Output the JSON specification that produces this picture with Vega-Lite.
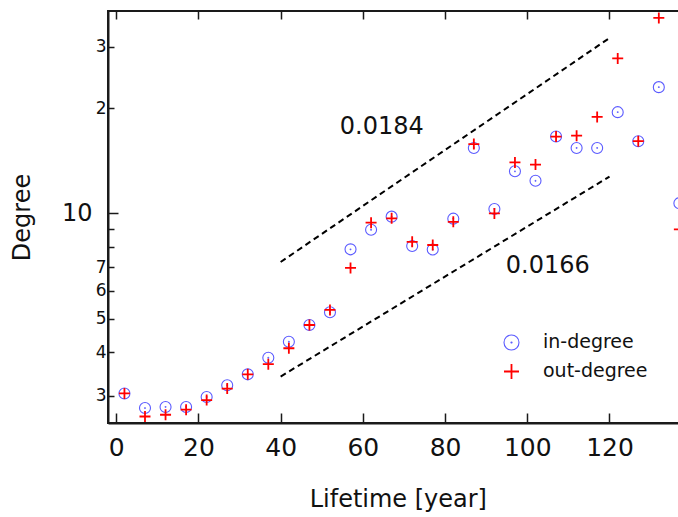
{
  "$schema": "https://vega.github.io/schema/vega-lite/v6.json",
  "width": 579.6,
  "height": 412,
  "autosize": {"type": "none"},
  "padding": {"left": 108, "top": 11, "right": 0, "bottom": 94},
  "background": "white",
  "config": {
    "font": "DejaVu Sans",
    "view": {"stroke": "#1a1a1a", "strokeWidth": 2},
    "axis": {"grid": false, "domainColor": "#1a1a1a", "domainWidth": 2, "tickColor": "#1a1a1a", "tickWidth": 1.5, "labelColor": "#111", "titleColor": "#111", "titleFontWeight": "normal"}
  },
  "datasets": {
    "pts": [
      {"Lifetime": 2, "Degree": 3.05, "series": "in-degree"},
      {"Lifetime": 7, "Degree": 2.77, "series": "in-degree"},
      {"Lifetime": 12, "Degree": 2.79, "series": "in-degree"},
      {"Lifetime": 17, "Degree": 2.79, "series": "in-degree"},
      {"Lifetime": 22, "Degree": 2.98, "series": "in-degree"},
      {"Lifetime": 27, "Degree": 3.22, "series": "in-degree"},
      {"Lifetime": 32, "Degree": 3.46, "series": "in-degree"},
      {"Lifetime": 37, "Degree": 3.86, "series": "in-degree"},
      {"Lifetime": 42, "Degree": 4.29, "series": "in-degree"},
      {"Lifetime": 47, "Degree": 4.79, "series": "in-degree"},
      {"Lifetime": 52, "Degree": 5.21, "series": "in-degree"},
      {"Lifetime": 57, "Degree": 7.89, "series": "in-degree"},
      {"Lifetime": 62, "Degree": 8.98, "series": "in-degree"},
      {"Lifetime": 67, "Degree": 9.79, "series": "in-degree"},
      {"Lifetime": 72, "Degree": 8.07, "series": "in-degree"},
      {"Lifetime": 77, "Degree": 7.88, "series": "in-degree"},
      {"Lifetime": 82, "Degree": 9.66, "series": "in-degree"},
      {"Lifetime": 87, "Degree": 15.4, "series": "in-degree"},
      {"Lifetime": 92, "Degree": 10.3, "series": "in-degree"},
      {"Lifetime": 97, "Degree": 13.2, "series": "in-degree"},
      {"Lifetime": 102, "Degree": 12.4, "series": "in-degree"},
      {"Lifetime": 107, "Degree": 16.6, "series": "in-degree"},
      {"Lifetime": 112, "Degree": 15.4, "series": "in-degree"},
      {"Lifetime": 117, "Degree": 15.4, "series": "in-degree"},
      {"Lifetime": 122, "Degree": 19.5, "series": "in-degree"},
      {"Lifetime": 127, "Degree": 16.1, "series": "in-degree"},
      {"Lifetime": 132, "Degree": 23.0, "series": "in-degree"},
      {"Lifetime": 137, "Degree": 10.7, "series": "in-degree"},
      {"Lifetime": 2, "Degree": 3.05, "series": "out-degree"},
      {"Lifetime": 7, "Degree": 2.62, "series": "out-degree"},
      {"Lifetime": 12, "Degree": 2.65, "series": "out-degree"},
      {"Lifetime": 17, "Degree": 2.74, "series": "out-degree"},
      {"Lifetime": 22, "Degree": 2.92, "series": "out-degree"},
      {"Lifetime": 27, "Degree": 3.15, "series": "out-degree"},
      {"Lifetime": 32, "Degree": 3.46, "series": "out-degree"},
      {"Lifetime": 37, "Degree": 3.70, "series": "out-degree"},
      {"Lifetime": 42, "Degree": 4.11, "series": "out-degree"},
      {"Lifetime": 47, "Degree": 4.79, "series": "out-degree"},
      {"Lifetime": 52, "Degree": 5.29, "series": "out-degree"},
      {"Lifetime": 57, "Degree": 6.98, "series": "out-degree"},
      {"Lifetime": 62, "Degree": 9.41, "series": "out-degree"},
      {"Lifetime": 67, "Degree": 9.68, "series": "out-degree"},
      {"Lifetime": 72, "Degree": 8.29, "series": "out-degree"},
      {"Lifetime": 77, "Degree": 8.12, "series": "out-degree"},
      {"Lifetime": 82, "Degree": 9.46, "series": "out-degree"},
      {"Lifetime": 87, "Degree": 15.8, "series": "out-degree"},
      {"Lifetime": 92, "Degree": 10.0, "series": "out-degree"},
      {"Lifetime": 97, "Degree": 14.0, "series": "out-degree"},
      {"Lifetime": 102, "Degree": 13.8, "series": "out-degree"},
      {"Lifetime": 107, "Degree": 16.6, "series": "out-degree"},
      {"Lifetime": 112, "Degree": 16.7, "series": "out-degree"},
      {"Lifetime": 117, "Degree": 18.9, "series": "out-degree"},
      {"Lifetime": 122, "Degree": 27.8, "series": "out-degree"},
      {"Lifetime": 127, "Degree": 16.1, "series": "out-degree"},
      {"Lifetime": 132, "Degree": 36.3, "series": "out-degree"},
      {"Lifetime": 137, "Degree": 9.0, "series": "out-degree"}
    ],
    "fits": [
      {"Lifetime": 40, "Degree": 7.26, "line": "upper"},
      {"Lifetime": 120, "Degree": 31.8, "line": "upper"},
      {"Lifetime": 40, "Degree": 3.41, "line": "lower"},
      {"Lifetime": 120, "Degree": 12.75, "line": "lower"}
    ],
    "notes": [
      {"Lifetime": 64.6, "Degree": 17.7, "label": "0.0184"},
      {"Lifetime": 105, "Degree": 7.07, "label": "0.0166"}
    ]
  },
  "encoding": {
    "y": {
      "field": "Degree",
      "type": "quantitative",
      "scale": {"type": "log", "domain": [2.51, 38], "nice": false},
      "axis": {
        "title": "Degree",
        "titleFontSize": 24,
        "titlePadding": 27,
        "values": [3, 4, 5, 6, 7, 8, 9, 10, 20, 30],
        "labelExpr": "datum.value == 8 || datum.value == 9 ? '' : datum.value == 20 ? '2' : datum.value == 30 ? '3' : format(datum.value, 'd')",
        "labelFontSize": {"condition": {"test": "datum.value == 10", "value": 24}, "value": 17},
        "labelPadding": {"condition": {"test": "datum.value == 10", "value": 26}, "value": 8},
        "tickSize": {"condition": {"test": "datum.value == 10", "value": -10}, "value": -6}
      }
    }
  },
  "layer": [
    {
      "data": {"name": "fits"},
      "mark": {"type": "line", "color": "#000", "strokeWidth": 2, "strokeDash": [6, 4]},
      "encoding": {
        "x": {
          "field": "Lifetime",
          "type": "quantitative",
          "scale": {"domain": [-2, 139], "nice": false, "zero": false},
          "axis": {"orient": "top", "labels": false, "domain": false, "title": null, "tickSize": -8, "values": [0, 20, 40, 60, 80, 100, 120]}
        },
        "detail": {"field": "line"}
      }
    },
    {
      "data": {"name": "pts"},
      "mark": {"type": "point", "filled": false, "opacity": 1, "size": 121},
      "encoding": {
        "x": {
          "field": "Lifetime",
          "type": "quantitative",
          "axis": {"orient": "bottom", "title": "Lifetime [year]", "titleFontSize": 24, "titlePadding": 27, "labelFontSize": 25, "labelPadding": 23, "tickSize": -10, "values": [0, 20, 40, 60, 80, 100, 120]}
        },
        "color": {
          "field": "series",
          "type": "nominal",
          "title": null,
          "scale": {"domain": ["in-degree", "out-degree"], "range": ["#5a5aff", "#ff0000"]},
          "legend": {"orient": "none", "legendX": 394, "legendY": 322, "padding": 0, "symbolSize": 225, "labelFontSize": 19, "labelColor": "#111", "labelOffset": 22, "rowPadding": 7, "symbolStrokeWidth": 1.5}
        },
        "shape": {
          "field": "series",
          "type": "nominal",
          "title": null,
          "scale": {"domain": ["in-degree", "out-degree"], "range": ["M-1,0A1,1 0 1,0 1,0A1,1 0 1,0 -1,0ZM-0.07,0A0.07,0.07 0 1,0 0.07,0A0.07,0.07 0 1,0 -0.07,0Z", "M-1,0L1,0M0,-1L0,1"]}
        },
        "strokeWidth": {
          "field": "series",
          "type": "nominal",
          "title": null,
          "scale": {"domain": ["in-degree", "out-degree"], "range": [1.1, 1.8]}
        }
      }
    },
    {
      "data": {"name": "notes"},
      "mark": {"type": "text", "fontSize": 24, "color": "#111", "align": "center", "baseline": "middle"},
      "encoding": {
        "x": {"field": "Lifetime", "type": "quantitative", "axis": null},
        "text": {"field": "label"}
      }
    }
  ],
  "resolve": {"axis": {"x": "independent"}}
}
